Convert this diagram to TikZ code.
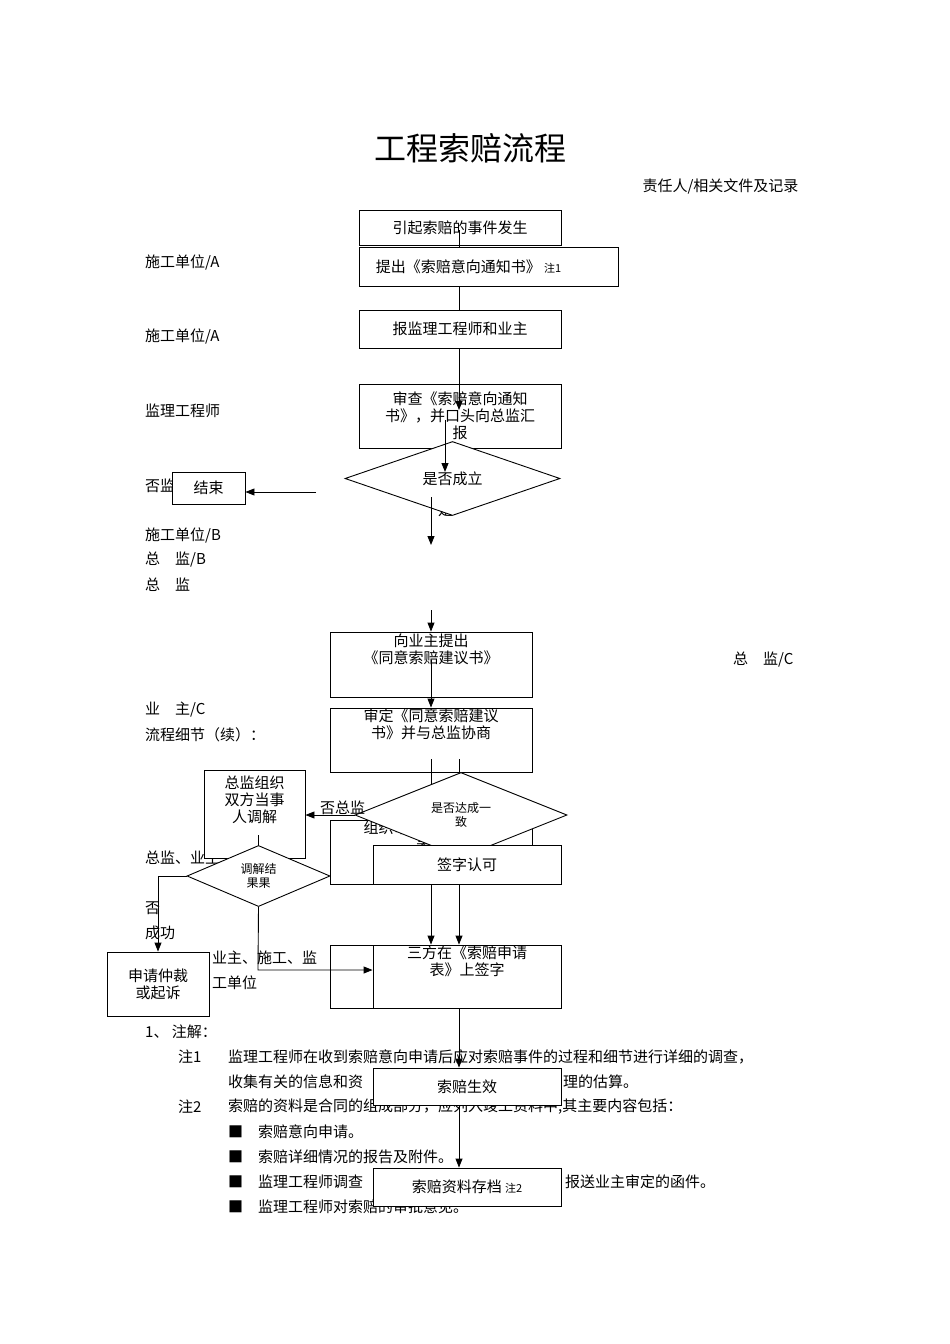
\documentclass[tikz,border=0pt]{standalone}
\usepackage{fontspec}
\setmainfont{Noto Sans CJK SC}
\usetikzlibrary{shapes.geometric,arrows.meta}
\begin{document}
\begin{tikzpicture}[x=1pt,y=-1pt,
  lab/.style={anchor=west,inner sep=0pt,font=\fontsize{15}{17}\selectfont},
  bx/.style={draw,fill=white,line width=0.9pt,inner sep=0pt,align=center,font=\fontsize{15}{17}\selectfont},
  dm/.style={draw,fill=white,line width=0.9pt,diamond,inner sep=0pt,align=center},
  ar/.style={line width=0.9pt,-{Triangle[length=9pt,width=7pt]}},
  ln/.style={line width=0.9pt}]
\useasboundingbox (0,0) rectangle (950,1344);
\node[font=\fontsize{32}{36}\selectfont] (title) at (470,148) {工程索赔流程};
\node[anchor=east,font=\fontsize{15}{17}\selectfont] (resp) at (802,186) {责任人/相关文件及记录};
% left labels
\node[lab] (l1) at (145,262) {施工单位/A};
\node[lab] (l2) at (145,336) {施工单位/A};
\node[lab] (l3) at (145,411) {监理工程师};
\node[lab] (l4) at (145,486) {否监};
\node[lab] (l5) at (145,535) {施工单位/B};
\node[lab] (l6) at (145,560) {总\quad 监/B};
\node[lab] (l7) at (145,585) {总\quad 监};
\node[lab] (l8) at (145,710) {业\quad 主/C};
\node[lab] (l9) at (145,735) {流程细节（续）：};
\node[lab] (l10) at (145,858) {总监、业主};
\node[lab] (l11) at (145,908) {否};
\node[lab] (l12) at (145,933) {成功};
\node[lab] (l13) at (212,958) {业主、施工、监};
\node[lab] (l13b) at (348,958) {与施};
\node[lab] (l14) at (212,983) {工单位};
\node[lab] (r1) at (733,660) {总\quad 监/C};
\node[lab] (yes) at (438,510) {是};
% notes
\node[lab] (n0) at (145,1032) {1、 注解：};
\node[lab] (n1) at (178,1057) {注1};
\node[lab] (n1t) at (228,1057) {监理工程师在收到索赔意向申请后应对索赔事件的过程和细节进行详细的调查，};
\node[lab] (n1u) at (228,1082) {收集有关的信息和资};
\node[lab] (n1v) at (563,1082) {理的估算。};
\node[lab] (n2) at (178,1107) {注2};
\node[lab] (n2t) at (228,1107) {索赔的资料是合同的组成部分，应列入竣工资料中,其主要内容包括：};
\node[lab] (b1) at (228,1132) {■\quad 索赔意向申请。};
\node[lab] (b2) at (228,1157) {■\quad 索赔详细情况的报告及附件。};
\node[lab] (b3) at (228,1182) {■\quad 监理工程师调查};
\node[lab] (b3r) at (565,1182) {报送业主审定的函件。};
\node[lab] (b4) at (228,1207) {■\quad 监理工程师对索赔的审批意见。};
% top boxes
\node[bx,minimum width=202pt,minimum height=35pt] (A) at (460,227.5) {引起索赔的事件发生};
\node[bx,minimum width=259pt,minimum height=39pt] (B) at (488.5,266.5) {\hspace{-40pt}提出《索赔意向通知书》\ {\fontsize{11}{13}\selectfont 注1}};
\draw[ln] (459,230) -- (B.north-|459,0);
\node[bx,minimum width=202pt,minimum height=38pt] (C) at (460,329) {报监理工程师和业主};
\draw[ln] (B.south-|459,0) -- (C.north-|459,0);
\node[bx,minimum width=202pt,minimum height=64pt] (D) at (460,416) {审查《索赔意向通知\\书》，并口头向总监汇\\报};
\draw[ln] (C.south-|459,0) -- (D.north-|459,0);
\node[dm,minimum width=215pt,minimum height=61pt,font=\fontsize{15}{17}\selectfont] (Q1) at (452.5,478.5) {是否成立};
\draw[ar] (459,370) -- (459,410);
\draw[ar] (445,420) -- (445,472);
\coordinate (q1s) at (431,497);
\coordinate (q1e) at (431,545);
\draw[ar] (q1s) -- (q1e);
\node[bx,minimum width=73pt,minimum height=32pt] (End) at (208.5,488) {结束};
\coordinate (q1w) at (316,492);
\draw[ar] (q1w) -- (End.east|-q1w);
% middle
\coordinate (m0) at (431,610);
\node[bx,minimum width=202pt,minimum height=65pt] (E) at (431,664.5) {向业主提出\\《同意索赔建议书》\\[14pt]};
\draw[ar] (m0) -- (E.north);
\node[bx,minimum width=202pt,minimum height=64pt] (F) at (431,740) {审定《同意索赔建议\\书》并与总监协商\\[16pt]};
\draw[ar] (431,660) -- (F.north);
\node[bx,minimum width=202pt,minimum height=64pt] (G) at (431,852) {组织审查《索赔申报\\表》\hspace{110pt}\\[16pt]};
\draw[ln] (431,759) -- (431,790);
\draw[ln] (459,759) -- (459,790);
\node[dm,minimum width=212pt,minimum height=62pt,font=\fontsize{12}{14}\selectfont] (Q2) at (461,815) {是否达成一\\致};
\node[bx,minimum width=188pt,minimum height=39pt] (H) at (467,864.5) {签字认可};
\node[bx,minimum width=101pt,minimum height=88pt] (M) at (254.5,814) {总监组织\\双方当事\\人调解\\[12pt]};
\node[lab] (nz) at (320,808) {否总监};
\draw[ar] (Q2.west) -- (Q2.west-|M.east);
\draw[ln] (258,835) -- (258,846);
\node[dm,minimum width=143pt,minimum height=60pt,font=\fontsize{12}{14}\selectfont] (Q3) at (258.5,876) {调解结\\果果};
\node[bx,minimum width=102pt,minimum height=64pt] (Arb) at (158,984) {申请仲裁\\或起诉};
\draw[ar] (Q3.west) -- (158,876) -- (Arb.north);
\node[bx,minimum width=231pt,minimum height=63pt] (I) at (445.5,976.5) {};
\node[bx,minimum width=188pt,minimum height=63pt] (J) at (467,976.5) {三方在《索赔申请\\表》上签字\\[14pt]};
\draw[ar] (Q3.south) -- (258,970) -- (J.west|-0,970);
\draw[ar] (G.south-|431,0) -- (I.north-|431,0);
\draw[ar] (H.south-|459,0) -- (J.north-|459,0);
\node[bx,minimum width=188pt,minimum height=37pt] (K) at (467,1086.5) {索赔生效};
\draw[ar] (J.south-|459,0) -- (K.north-|459,0);
\node[bx,minimum width=188pt,minimum height=38pt] (L) at (467,1187) {索赔资料存档\ {\fontsize{11}{13}\selectfont 注2}};
\draw[ar] (K.south-|459,0) -- (L.north-|459,0);
\end{tikzpicture}
\end{document}
